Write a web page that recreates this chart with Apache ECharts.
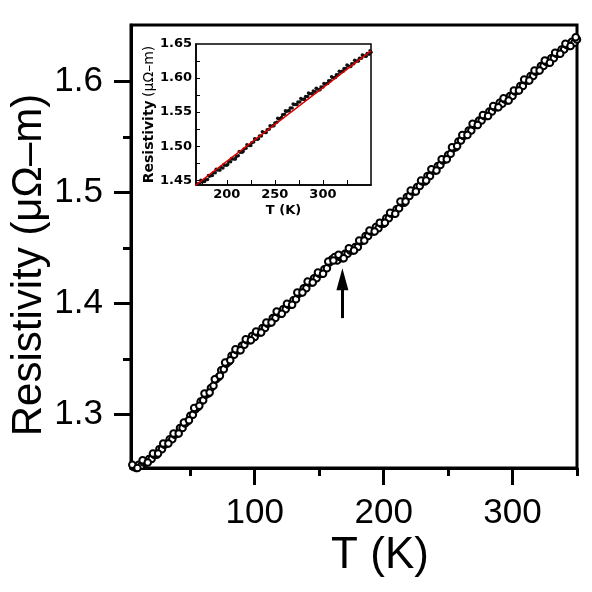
<!DOCTYPE html>
<html>
<head>
<meta charset="utf-8">
<script src="https://cdn.jsdelivr.net/npm/echarts@6/dist/echarts.min.js"></script>
<style>
  html, body { margin: 0; padding: 0; background: #fff; }
  #myChart { width: 592px; height: 592px; }
</style>
</head>
<body>
<div id="myChart"></div>
<script>
// temperature (K) of each measured point
const temps = [4,6,8,10,12,14,16,18,20,22,24,26,28,30,32,34,36,38,40,42,44,46,48,50,
  52,54,56,58,60,62,64,66,68,70,72,74,76,78,80,82,84,86,88,90,92,94,96,98,100,
  102,104,106,108,110,112,114,116,118,120,122,124,126,128,130,132,134,136,138,140,
  142,144,146,148,150,152,154,156,158,160,162,164,166,168,170,172,174,176,178,180,
  182,184,186,188,190,192,194,196,198,200,202,204,206,208,210,212,214,216,218,220,
  222,224,226,228,230,232,234,236,238,240,242,244,246,248,250,252,254,256,258,260,
  262,264,266,268,270,272,274,276,278,280,282,284,286,288,290,292,294,296,298,300,
  302,304,306,308,310,312,314,316,318,320,322,324,326,328,330,332,334,336,338,340,
  342,344,346,348,350];
// resistivity (μΩ-m)
const resist = [1.251,1.253,1.252,1.255,1.254,1.257,1.257,1.260,1.260,1.264,1.264,1.269,1.269,1.273,1.274,1.278,1.278,1.282,1.283,1.288,1.288,1.292,1.294,1.299,
  1.300,1.305,1.307,1.312,1.313,1.318,1.319,1.324,1.326,1.332,1.334,1.340,1.341,1.346,1.348,1.353,1.354,1.358,1.358,1.362,1.363,1.367,1.367,1.371,1.370,
  1.374,1.374,1.378,1.378,1.382,1.383,1.387,1.387,1.392,1.391,1.395,1.395,1.399,1.399,1.403,1.404,1.409,1.410,1.414,1.414,
  1.419,1.419,1.423,1.423,1.427,1.427,1.431,1.432,1.437,1.440,1.442,1.439,1.442,1.441,1.445,1.445,1.448,1.448,1.451,1.451,
  1.456,1.457,1.461,1.461,1.465,1.465,1.469,1.468,1.472,1.472,1.477,1.477,1.481,1.481,1.485,1.486,1.491,1.491,1.496,1.497,
  1.501,1.501,1.505,1.506,1.510,1.510,1.515,1.515,1.520,1.520,1.524,1.525,1.529,1.530,1.534,1.535,1.540,1.541,1.546,1.547,
  1.551,1.552,1.556,1.556,1.561,1.561,1.565,1.565,1.569,1.569,1.573,1.573,1.577,1.577,1.581,1.580,1.584,1.583,1.587,1.587,
  1.591,1.592,1.596,1.596,1.601,1.601,1.605,1.605,1.609,1.610,1.614,1.614,1.618,1.617,1.621,1.621,1.625,1.625,1.629,1.629,
  1.633,1.632,1.636,1.635,1.638];

// scattered points on the edges of the band
const temps2 = [5,9,13,17,21,25,29,33,37,41,45,49,53,57,61,65,69,73,77,81,85,89,93,97,101,
  105,109,113,117,121,125,129,133,137,141,145,149,153,157,161,165,169,173,177,181,185,189,
  193,197,201,205,209,213,217,221,225,229,233,237,241,245,249,253,257,261,265,269,273,277,
  281,285,289,293,297,301,305,309,313,317,321,325,329,333,337,341,345,349];
const resist2 = [1.255,1.252,1.259,1.257,1.265,1.265,1.274,1.274,1.283,1.283,1.293,1.295,1.306,1.308,1.319,1.320,1.332,1.335,1.347,1.349,1.359,1.358,1.368,1.367,1.375,
  1.374,1.383,1.383,1.393,1.391,1.400,1.399,1.410,1.410,1.420,1.419,1.428,1.427,1.438,1.439,1.444,1.441,1.450,1.448,1.457,1.457,1.466,
  1.465,1.473,1.473,1.482,1.481,1.492,1.492,1.502,1.501,1.511,1.511,1.521,1.520,1.530,1.530,1.541,1.542,1.552,1.552,1.562,1.561,1.570,
  1.569,1.578,1.577,1.585,1.583,1.592,1.592,1.602,1.601,1.610,1.610,1.619,1.617,1.626,1.625,1.634,1.632,1.640];

// linear fit shown in the inset
const fitT = [166, 350];
const fitR = [1.441, 1.640];

// arrow marking the anomaly (tail, head)
const arrowT = 168;
const arrowR = [1.387, 1.422];

// tick values
const xMajor = [100, 200, 300];
const xMinor = [50, 150, 250, 350];
const yMajor = [1.3, 1.4, 1.5, 1.6];
const yMinor = [1.35, 1.45, 1.55];
const insetXTicks = [175, 200, 225, 250, 275, 300, 325];
const insetXLabels = [200, 250, 300];
const insetYTicks = [1.45, 1.475, 1.5, 1.525, 1.55, 1.575, 1.6, 1.625];
const insetYLabels = [1.45, 1.5, 1.55, 1.6, 1.65];

const mainData = temps.map((t, i) => [t, resist[i]])
  .concat(temps2.map((t, i) => [t, resist2[i]]));
const insetData = mainData.filter(d => d[0] >= 168);
const fitData = fitT.map((t, i) => [t, fitR[i]]);

const FONT = '"Liberation Sans", Arial, sans-serif';
const IFONT = '"DejaVu Sans", sans-serif';

const myChart = echarts.init(document.getElementById('myChart'));
myChart.setOption({
  animation: false,
  backgroundColor: '#fff',
  grid: [
    { left: 131, top: 25, width: 446, height: 443, show: true, borderColor: '#000', borderWidth: 3 },
    { left: 196, top: 44, width: 175, height: 141, show: true, borderColor: '#000', borderWidth: 1.5, backgroundColor: '#fff' }
  ],
  xAxis: [
    { // main, major ticks + labels
      type: 'value', gridIndex: 0, position: 'bottom', min: 4, max: 350,
      axisLine: { lineStyle: { color: '#000', width: 3 } },
      axisTick: { customValues: xMajor, length: 17, lineStyle: { color: '#000', width: 3 } },
      axisLabel: { customValues: xMajor, fontSize: 35, fontFamily: FONT, color: '#000', margin: 28 },
      splitLine: { show: false }
    },
    { // main, minor ticks
      type: 'value', gridIndex: 0, position: 'bottom', min: 4, max: 350,
      axisLine: { show: false },
      axisTick: { customValues: xMinor, length: 8, lineStyle: { color: '#000', width: 3 } },
      axisLabel: { show: false },
      splitLine: { show: false }
    },
    { // inset
      type: 'value', gridIndex: 1, position: 'bottom', min: 168, max: 350,
      name: 'T (K)', nameLocation: 'middle', nameGap: 19,
      nameTextStyle: { fontSize: 13, fontWeight: 'bold', fontFamily: IFONT, color: '#000' },
      axisLine: { lineStyle: { color: '#000', width: 1.5 } },
      axisTick: { customValues: insetXTicks, inside: true, length: 5, lineStyle: { color: '#000', width: 1 } },
      axisLabel: { customValues: insetXLabels, fontSize: 13, fontWeight: 'bold', fontFamily: IFONT, color: '#000', margin: 3 },
      splitLine: { show: false }
    }
  ],
  yAxis: [
    {
      type: 'value', gridIndex: 0, position: 'left', min: 1.252, max: 1.651,
      axisLine: { lineStyle: { color: '#000', width: 3 } },
      axisTick: { customValues: yMajor, length: 17, lineStyle: { color: '#000', width: 3 } },
      axisLabel: { customValues: yMajor, fontSize: 35, fontFamily: FONT, color: '#000', margin: 28,
        formatter: v => v.toFixed(1) },
      splitLine: { show: false }
    },
    {
      type: 'value', gridIndex: 0, position: 'left', min: 1.252, max: 1.651,
      axisLine: { show: false },
      axisTick: { customValues: yMinor, length: 8, lineStyle: { color: '#000', width: 3 } },
      axisLabel: { show: false },
      splitLine: { show: false }
    },
    {
      type: 'value', gridIndex: 1, position: 'left', min: 1.443, max: 1.65,
      name: '{b|Resistivity} {n|(μΩ–m)}', nameLocation: 'middle', nameGap: 38,
      nameTextStyle: {
        color: '#000',
        rich: {
          b: { fontSize: 14, fontWeight: 'bold', fontFamily: IFONT, color: '#000' },
          n: { fontSize: 14, fontFamily: IFONT, color: '#000' }
        }
      },
      axisLine: { lineStyle: { color: '#000', width: 1.5 } },
      axisTick: { customValues: insetYTicks, inside: true, length: 4, lineStyle: { color: '#000', width: 1 } },
      axisLabel: { customValues: insetYLabels, fontSize: 13, fontWeight: 'bold', fontFamily: IFONT, color: '#000', margin: 4,
        formatter: v => v.toFixed(2) },
      splitLine: { show: false }
    }
  ],
  graphic: [
    {
      type: 'text', x: 29, y: 265, rotation: Math.PI / 2,
      style: { text: 'Resistivity (μΩ–m)', fontSize: 42, fontFamily: FONT, fill: '#000',
        textAlign: 'center', textVerticalAlign: 'middle', align: 'center', verticalAlign: 'middle' }
    },
    {
      type: 'text', x: 380, y: 556,
      style: { text: 'T (K)', fontSize: 44, fontFamily: FONT, fill: '#000',
        textAlign: 'center', textVerticalAlign: 'middle', align: 'center', verticalAlign: 'middle' }
    }
  ],
  series: [
    {
      id: 'main',
      type: 'scatter', xAxisIndex: 0, yAxisIndex: 0,
      data: mainData,
      symbol: 'circle', symbolSize: 6.5,
      itemStyle: { color: '#fff', borderColor: '#000', borderWidth: 2, opacity: 1 },
      markLine: {
        silent: true,
        symbol: ['none', 'triangle'],
        symbolSize: [12, 22],
        label: { show: false },
        lineStyle: { color: '#000', width: 3, type: 'solid' },
        data: [[{ coord: [arrowT, arrowR[0]] }, { coord: [arrowT, arrowR[1]] }]]
      }
    },
    {
      id: 'insetData',
      type: 'scatter', xAxisIndex: 2, yAxisIndex: 2,
      data: insetData,
      symbol: 'circle', symbolSize: 3.5,
      itemStyle: { color: '#111', opacity: 1 }
    },
    {
      id: 'insetFit',
      type: 'line', xAxisIndex: 2, yAxisIndex: 2,
      data: fitData, showSymbol: false, z: 5,
      lineStyle: { color: '#e00000', width: 1.5 }
    }
  ]
});
</script>
</body>
</html>
